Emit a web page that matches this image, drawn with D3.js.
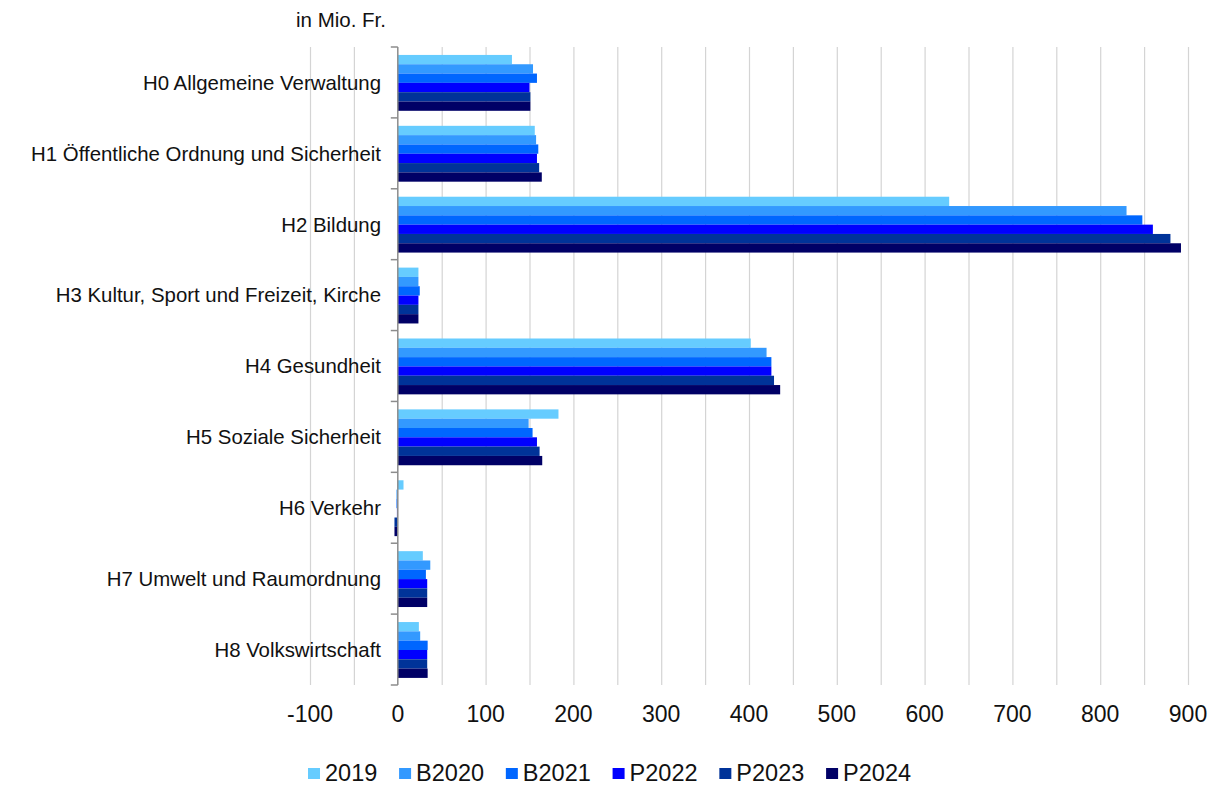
<!DOCTYPE html>
<html>
<head>
<meta charset="utf-8">
<script src="https://cdn.jsdelivr.net/npm/d3@7/dist/d3.min.js"></script>
<style>
  html, body { margin: 0; padding: 0; background: #ffffff; }
  svg { display: block; font-family: "Liberation Sans", Arial, sans-serif; }
</style>
</head>
<body>
<svg id="chart" width="1210" height="785"></svg>
<script>
const categories = [
  "H0 Allgemeine Verwaltung",
  "H1 Öffentliche Ordnung und Sicherheit",
  "H2 Bildung",
  "H3 Kultur, Sport und Freizeit, Kirche",
  "H4 Gesundheit",
  "H5 Soziale Sicherheit",
  "H6 Verkehr",
  "H7 Umwelt und Raumordnung",
  "H8 Volkswirtschaft"
];
const seriesNames = ["2019", "B2020", "B2021", "P2022", "P2023", "P2024"];
const seriesColors = ["#66ccff", "#3399ff", "#0066ff", "#0000ff", "#003399", "#000066"];
const values2019  = [130, 156, 628, 23.5, 402, 183, 6.5, 28.5, 24];
const valuesB2020 = [154, 157.5, 830, 23.5, 420, 149, -1.5, 37, 25.5];
const valuesB2021 = [158.5, 160, 848, 25, 425.5, 153.5, -1.5, 32, 34];
const valuesP2022 = [150, 158.5, 860, 23.5, 425.5, 158.5, -1, 33.5, 33.5];
const valuesP2023 = [151, 161, 880, 23.5, 428.5, 161.5, -3.8, 33.5, 33.5];
const valuesP2024 = [151, 164, 892, 23.5, 435.5, 164.5, -3.8, 33.5, 34];
const allValues = [values2019, valuesB2020, valuesB2021, valuesP2022, valuesP2023, valuesP2024];
const xDomain = [-100, 900];
const xTickLabels = [-100, 0, 100, 200, 300, 400, 500, 600, 700, 800, 900];
const gridValues = d3.range(-100, 901, 50);
const unitLabel = "in Mio. Fr.";

const svg = d3.select("#chart");
const x = d3.scaleLinear().domain(xDomain).range([310, 1188]);
const y = d3.scaleBand().domain(categories).range([47, 685]).padding(0);
const bw = y.bandwidth();
const yInner = d3.scaleBand().domain(seriesNames).range([bw * 0.112, bw * 0.9]).padding(0);

// gridlines
svg.append("g")
  .attr("transform", "translate(0,685)")
  .call(d3.axisBottom(x).tickValues(gridValues.filter(v => v !== 0)).tickSize(-(685 - 47)).tickFormat(""))
  .call(g => g.select(".domain").remove())
  .call(g => g.selectAll("line").attr("stroke", "#d4d4d4").attr("stroke-width", 1.2));

// bars
const rows = categories.map((c, i) => ({ cat: c, vals: allValues.map((arr, s) => ({ s: seriesNames[s], v: arr[i], color: seriesColors[s] })) }));
const grp = svg.append("g").selectAll("g").data(rows).join("g")
  .attr("transform", d => `translate(0,${y(d.cat)})`);
grp.selectAll("rect").data(d => d.vals).join("rect")
  .attr("x", d => x(Math.min(0, d.v)))
  .attr("width", d => Math.abs(x(d.v) - x(0)))
  .attr("y", d => yInner(d.s))
  .attr("height", yInner.bandwidth())
  .attr("fill", d => d.color);

// y axis
const yAxis = svg.append("g").attr("transform", `translate(${x(0)},0)`);
yAxis.append("line").attr("x1", 0).attr("x2", 0).attr("y1", 47).attr("y2", 685)
  .attr("stroke", "#8c8c8c").attr("stroke-width", 1.5);
const boundaries = categories.map(c => y(c)).concat([y(categories[categories.length - 1]) + bw]);
yAxis.selectAll("line.tick").data(boundaries).join("line").attr("class", "tick")
  .attr("x1", -7).attr("x2", 0).attr("y1", d => d).attr("y2", d => d)
  .attr("stroke", "#8c8c8c").attr("stroke-width", 1.5);

// category labels
svg.append("g").selectAll("text").data(categories).join("text")
  .attr("x", 381)
  .attr("y", d => y(d) + bw / 2)
  .attr("dy", "0.36em")
  .attr("text-anchor", "end")
  .attr("font-size", 20.4)
  .attr("fill", "#111")
  .text(d => d);

// x tick labels
svg.append("g").attr("transform", "translate(0,722)")
  .selectAll("text").data(xTickLabels).join("text")
  .attr("x", d => x(d))
  .attr("text-anchor", "middle")
  .attr("font-size", 23)
  .attr("fill", "#111")
  .text(d => d);

// unit label
svg.append("text").attr("x", 386).attr("y", 27).attr("text-anchor", "end")
  .attr("font-size", 20.5).attr("fill", "#111").text(unitLabel);

// legend
const legend = svg.append("g");
let lx = 308;
seriesNames.forEach((name, i) => {
  legend.append("rect").attr("x", lx).attr("y", 768).attr("width", 12).attr("height", 11).attr("fill", seriesColors[i]);
  const t = legend.append("text").attr("x", lx + 17).attr("y", 781).attr("font-size", 23.5).attr("fill", "#111").text(name);
  const w = t.node().getComputedTextLength();
  lx = lx + 17 + w + 21.8;
});
</script>
</body>
</html>
